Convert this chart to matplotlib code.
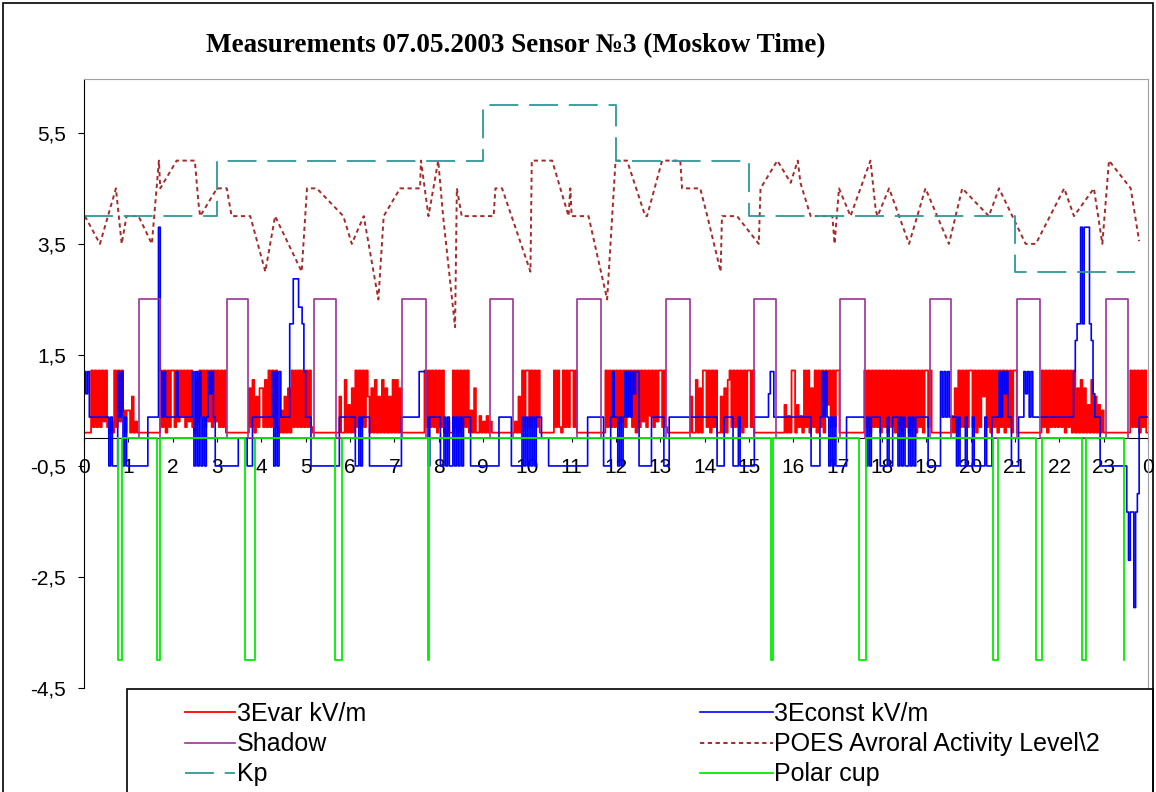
import numpy as np
import matplotlib
matplotlib.use("Agg")
import matplotlib.pyplot as plt
from matplotlib.patches import Rectangle

# sampled series: 25 samples per hour (one char per sample)
STEP = 0.04

# 3Evar kV/m, digit -> level
RED_LEVELS = [0.1, 0.2, 0.3, 0.4, 0.5, 0.6, 0.75, 0.9, 1.05, 1.22]
RED_HOURS = [
    "0000919191929102091929404",  # 0
    "4060200000000000009190919",  # 1
    "9192939192910829391929192",  # 2
    "9191900000000000007180617",  # 3
    "7181919191040607091919191",  # 4
    "9191000000000000000600805",  # 5
    "0709191919607080608070608",  # 6
    "0807000000000000091919190",  # 7
    "9190020091909191904070030",  # 8
    "2030200000000000002060919",  # 9
    "9192919000000009191091919",  # 10
    "9190000000000000000919191",  # 11
    "9192919391909192919391929",  # 12
    "9191000000000000060080709",  # 13
    "9190919006070891919190919",  # 14
    "9190000000000000000050309",  # 15
    "9051309190719091909591919",  # 16
    "9000000000000009190919190",  # 17
    "9190919091909190919091909",  # 18
    "9190000000000030709191919",  # 19
    "9190919691909190919091909",  # 20
    "9000000000000009190919191",  # 21
    "9190919090708070508060504",  # 22
    "0000000000000009191909190",  # 23
]

# 3Econst kV/m, char -> level
BLUE_LEVELS = {"0": -0.5, "1": 0.0, "2": 0.38, "3": 0.8, "4": 1.2, "5": 2.06,
               "6": 2.36, "7": 2.87, "8": 3.8, "9": 1.76,
               "a": -1.0, "b": -1.33, "c": -2.2, "d": -3.05}
BLUE_HOURS = [
    "4342222222222202000424020",  # 0
    "0000000000022222284242222",  # 1
    "2242222222240404020243420",  # 2
    "0000000000001111100022222",  # 3
    "2222224040422222557776654",  # 4
    "2220000000000000000222222",  # 5
    "2220020222200000000000000",  # 6
    "0000222222222244442022222",  # 7
    "2002020020202022220000000",  # 8
    "0000000002222222000000202",  # 9
    "0202022211110000000000000",  # 10
    "0000000002222222220000242",  # 11
    "2020242424344000000022222",  # 12
    "2200022222222222222222222",  # 13
    "2222222000022222000200000",  # 14
    "0002222222234422222222222",  # 15
    "2222222222000002424202020",  # 16
    "0000022222222222020222220",  # 17
    "0002002220202002020222222",  # 18
    "2000000042424222202000200",  # 19
    "0200000020002222424342200",  # 20
    "0022243424222222222222222",  # 21
    "2222222249558588859322200",  # 22
    "0000000000000bcbbdba22222",  # 23
]

# Shadow pulses (hours), level 2.5 inside
SHADOW_ON = [1.23, 3.22, 5.18, 7.17, 9.16, 11.11, 13.12, 15.11, 17.05, 19.08, 21.04, 23.05]
SHADOW_OFF = [1.72, 3.69, 5.68, 7.71, 9.67, 11.66, 13.66, 15.61, 17.61, 19.56, 21.56, 23.55]

# POES Avroral Activity Level\2
POES_T = [0.02, 0.36, 0.72, 0.85, 0.96, 1.23, 1.53, 1.69, 1.72, 2.09, 2.5, 2.58, 2.62,
          3.0, 3.22, 3.33, 3.75, 4.09, 4.31, 4.91, 5.03, 5.25, 5.85, 6.04, 6.31, 6.64,
          6.76, 7.13, 7.58, 7.6, 7.77, 7.99, 8.1, 8.37, 8.41, 8.52, 9.24, 9.28, 9.43,
          10.07, 10.1, 10.56, 10.93, 10.97, 11.0, 11.38, 11.8, 11.99, 12.25, 12.66,
          12.7, 13.04, 13.45, 13.49, 13.9, 14.06, 14.36, 14.39, 14.73, 15.22, 15.26,
          15.64, 15.94, 16.1, 16.16, 16.39, 16.88, 16.93, 17.03, 17.29, 17.74, 17.86,
          17.9, 18.16, 18.61, 18.98, 19.51, 19.81, 20.41, 20.64, 21.24, 21.47, 22.11,
          22.33, 22.78, 22.97, 23.12, 23.61, 23.8]
POES_V = [4.0, 3.5, 4.5, 3.5, 4.0, 4.0, 3.5, 5.0, 4.5, 5.0, 5.0, 4.25, 4.0,
          4.5, 4.5, 4.0, 4.0, 3.0, 4.0, 3.0, 4.5, 4.5, 4.0, 3.5, 4.0, 2.5,
          4.0, 4.5, 4.5, 5.0, 4.0, 5.0, 4.0, 2.0, 4.5, 4.0, 4.0, 4.5, 4.5,
          3.0, 5.0, 5.0, 4.0, 4.5, 4.0, 4.0, 2.5, 5.0, 5.0, 4.0,
          4.0, 5.0, 5.0, 4.5, 4.5, 4.0, 3.0, 4.0, 4.0, 3.5, 4.5,
          5.0, 4.6, 5.0, 4.6, 4.0, 4.0, 3.5, 4.5, 4.0, 5.0, 4.1,
          4.0, 4.5, 3.5, 4.5, 3.5, 4.5, 4.0, 4.5, 3.5, 3.5, 4.5,
          4.0, 4.5, 3.5, 5.0, 4.5, 3.55]

# Kp (step after each time)
KP_T = [0, 3, 9, 12, 15, 21, 23.7]
KP_V = [4, 5, 6, 5, 4, 3, 3]

# Polar cup drops to -4
PC_DOWN = [0.77, 1.64, 3.63, 5.67, 7.75, 15.49, 17.48, 20.51, 21.47, 22.5, 23.46]
PC_UP = [0.85, 1.72, 3.86, 5.82, 7.79, 15.55, 17.63, 20.62, 21.62, 22.6]
PC_LOW = -4.0

YTICKS = [5.5, 3.5, 1.5, -0.5, -2.5, -4.5]
YLABELS = ["5,5", "3,5", "1,5", "-0,5", "-2,5", "-4,5"]
XLABELS = [str(h % 24) for h in range(25)]


def sampled(hours, lookup):
    vals = [lookup[int(c)] if isinstance(lookup, list) else lookup[c]
            for s in hours for c in s]
    t = np.arange(len(vals)) * STEP
    return np.append(t, 24.0), np.append(vals, vals[-1])


red_t, red_v = sampled(RED_HOURS, RED_LEVELS)
blue_t, blue_v = sampled(BLUE_HOURS, BLUE_LEVELS)

sh_t, sh_v = [], []
for a, b in zip(SHADOW_ON, SHADOW_OFF):
    sh_t += [a, a, b, b]
    sh_v += [0, 2.5, 2.5, 0]

pc_t, pc_v = [PC_DOWN[0]], [0]
for i, d in enumerate(PC_DOWN):
    pc_t += [d, d]
    pc_v += [0, PC_LOW]
    if i < len(PC_UP):
        pc_t += [PC_UP[i], PC_UP[i]]
        pc_v += [PC_LOW, 0]

plt.rcParams["font.family"] = ["Liberation Sans", "DejaVu Sans"]

fig = plt.figure(figsize=(11.56, 7.92), dpi=100)
ax = fig.add_axes([84 / 1156, 1 - 688 / 792, 1064 / 1156, 609 / 792])

l_red, = ax.step(red_t, red_v, where="post", color="#ff0000", lw=1.3)
l_blue, = ax.step(blue_t, blue_v, where="post", color="#0000ff", lw=1.2)
l_sh, = ax.plot(sh_t, sh_v, color="#993399", lw=1.2)
l_poes, = ax.plot(POES_T, POES_V, color="#a52a2a", lw=1.4, ls=(0, (2.2, 1.8)))
l_kp, = ax.step(KP_T, KP_V, where="post", color="#2e9999", lw=1.3, ls=(0, (16, 6)))
l_pc, = ax.plot(pc_t, pc_v, color="#00ee00", lw=1.3)

ax.set_xlim(0, 24)
ax.set_ylim(-4.5, 6.47)
ax.set_yticks(YTICKS)
ax.set_yticklabels(YLABELS)
ax.set_xticks(range(25))
ax.set_xticklabels(XLABELS)
ax.spines["bottom"].set_position(("data", 0))
ax.spines["bottom"].set_zorder(0)
ax.spines["top"].set_color("#a0a0a0")
ax.spines["right"].set_color("#a0a0a0")
ax.tick_params(axis="x", direction="out", length=3, pad=11.5, labelsize=15)
ax.tick_params(axis="y", direction="out", length=4, pad=9, labelsize=15)

fig.text(516 / 1156, 1 - 46 / 792, "Measurements 07.05.2003 Sensor №3 (Moskow Time)",
         family=["Liberation Serif", "DejaVu Serif"], weight="bold", fontsize=19.5,
         ha="center", va="center")

leg_kw = dict(loc="upper left", frameon=False, fontsize=18, borderpad=0,
              borderaxespad=0, handletextpad=0.08, labelspacing=0.25)
fig.legend([l_red, l_sh, l_kp], ["3Evar kV/m", "Shadow", "Kp"],
           bbox_to_anchor=(185 / 1156, 1 - 702 / 792), handlelength=2.0, **leg_kw)
fig.legend([l_blue, l_poes, l_pc],
           ["3Econst kV/m", "POES Avroral Activity Level\\2", "Polar cup"],
           bbox_to_anchor=(700 / 1156, 1 - 702 / 792), handlelength=2.9, **leg_kw)

fig.patches.append(Rectangle((127 / 1156, -0.1), 1026 / 1156, 0.1 + 103 / 792,
                             transform=fig.transFigure, fill=False, ec="black", lw=1.2))
fig.patches.append(Rectangle((3 / 1156, -0.1), 1150 / 1156, 1.1 - 3 / 792,
                             transform=fig.transFigure, fill=False, ec="black", lw=1.2))

fig.savefig("out.png", dpi=100)
